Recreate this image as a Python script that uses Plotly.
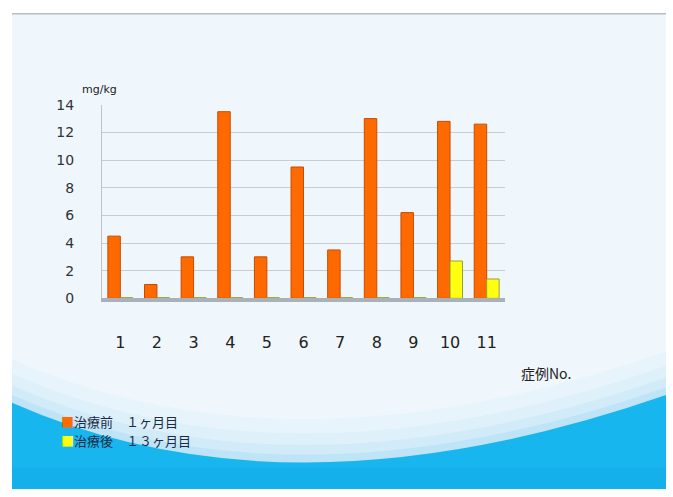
import plotly.graph_objects as go

# ---- data ----
cases = ["1", "2", "3", "4", "5", "6", "7", "8", "9", "10", "11"]
before_1m = [4.5, 1.0, 3.0, 13.5, 3.0, 9.5, 3.5, 13.0, 6.2, 12.8, 12.6]
after_13m = [0.05, 0.05, 0.05, 0.05, 0.05, 0.05, 0.05, 0.05, 0.05, 2.7, 1.4]
y_ticks = [0, 2, 4, 6, 8, 10, 12, 14]
series_names = ["治療前　１ヶ月目", "治療後　１３ヶ月目"]
series_colors = ["#ff6a00", "#ffff10"]

W, H = 673, 497
FONT = "Noto Sans CJK JP"


def px(x):
    return x / W


def py(y):
    return 1 - y / H


def wave_path(offset):
    # bezier swoosh of the slide background (pixel coords -> paper)
    y0, yc, y1 = 408 - offset, 535 - offset, 400 - offset
    return (f"M {px(12)},{py(y0)} Q {px(290)},{py(yc)} {px(666)},{py(y1)} "
            f"L {px(666)},{py(497)} L {px(12)},{py(497)} Z")


shapes = [
    # slide background
    dict(type="rect", xref="paper", yref="paper", x0=px(12), x1=px(666),
         y0=py(497), y1=py(6), fillcolor="#eff7fc", line_width=0, layer="below"),
    dict(type="line", xref="paper", yref="paper", x0=px(12), x1=px(666),
         y0=py(6), y1=py(6), line=dict(color="#b8bec4", width=1.5), layer="below"),
]
for off, alpha in [(45, 0.07), (30, 0.10), (18, 0.16), (8, 0.26)]:
    shapes.append(dict(type="path", xref="paper", yref="paper", path=wave_path(off),
                       fillcolor=f"rgba(140,210,245,{alpha})", line_width=0, layer="below"))
shapes.append(dict(type="path", xref="paper", yref="paper", path=wave_path(0),
                   fillcolor="#18b6ee", line_width=0, layer="below"))
shapes.append(dict(type="rect", xref="paper", yref="paper", x0=px(12), x1=px(666),
                   y0=py(497), y1=py(475), fillcolor="rgba(0,150,220,0.18)",
                   line_width=0, layer="below"))

fig = go.Figure()
fig.add_trace(go.Bar(x=cases, y=before_1m, name=series_names[0],
                     marker=dict(color=series_colors[0], line=dict(color="#c84a00", width=1))))
fig.add_trace(go.Bar(x=cases, y=after_13m, name=series_names[1],
                     marker=dict(color=series_colors[1], line=dict(color="#9aa030", width=1))))

legend_ann = []
for i, (name, col) in enumerate(zip(series_names, series_colors)):
    legend_ann.append(dict(
        text=f"<span style='color:{col}'>■</span>{name}",
        xref="paper", yref="paper", x=px(59), y=py(427 + 20 * i),
        xanchor="left", yanchor="middle", showarrow=False,
        font=dict(size=13, color="#1c2b45", family=FONT)))

fig.update_layout(
    width=W, height=H,
    margin=dict(l=0, r=0, t=0, b=0),
    paper_bgcolor="white",
    plot_bgcolor="rgba(0,0,0,0)",
    barmode="group",
    bargap=0.32,
    bargroupgap=0.0,
    shapes=shapes,
    font=dict(family=FONT, color="#333333"),
    showlegend=False,
    xaxis=dict(domain=[px(102), px(505)], showgrid=False,
               showline=True, linecolor="#a9b1b9", linewidth=4,
               tickfont=dict(size=16, color="#222222", family="DejaVu Sans"),
               ticklabelstandoff=26, ticks="", fixedrange=True),
    yaxis=dict(domain=[py(300), py(100)], range=[0, 14], tickvals=y_ticks,
               showgrid=True, gridcolor="#c9cdd2", gridwidth=1,
               showline=True, linecolor="#c0c4c8", linewidth=1,
               zeroline=False,
               tickfont=dict(size=14, color="#333333", family="DejaVu Sans"),
               ticklabelstandoff=24, fixedrange=True),
    annotations=[
        dict(text="mg/kg", xref="paper", yref="paper", x=px(80), y=py(84),
             xanchor="left", yanchor="middle", showarrow=False,
             font=dict(size=11, color="#222222", family="DejaVu Sans")),
        dict(text="症例No.", xref="paper", yref="paper", x=px(519), y=py(377),
             xanchor="left", yanchor="middle", showarrow=False,
             font=dict(size=14, color="#222222", family=FONT)),
    ] + legend_ann,
)

fig.write_html("out.html")
